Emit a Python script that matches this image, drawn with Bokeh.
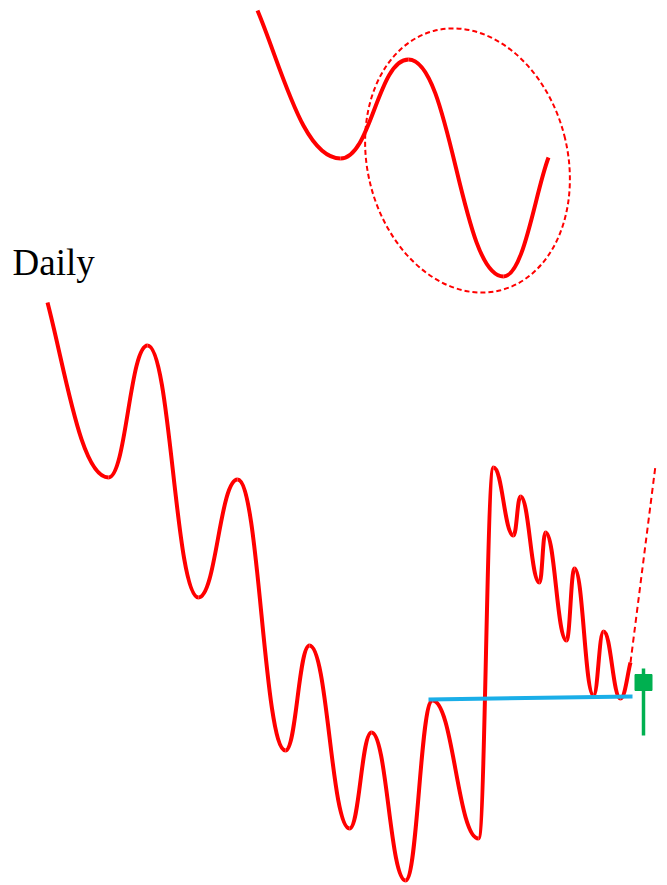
from bokeh.plotting import figure
from bokeh.models import Range1d
from bokeh.core.properties import value
from bokeh.embed import file_html
from bokeh.resources import INLINE

# swing points of the daily price path (page-pixel coordinates)
main_x = [47, 108, 147, 198, 237, 285, 309, 349, 371, 405, 432, 478, 493, 513, 520, 539, 545, 566, 574, 593, 603, 620, 630]
main_y = [302, 477, 345, 597, 479, 750, 645, 828, 732, 880, 700, 838, 467, 535, 496, 582, 532, 640, 568, 695, 631, 698, 662]
# projected continuation
proj_x = [630, 655]
proj_y = [662, 465]
# inset pattern swing points
inset_x = [257, 340, 408, 503, 548]
inset_y = [10, 158, 59, 276, 157]
# support level
level_x = [428, 632]
level_y = [699, 696]
# candle (open, close, high, low)
candle_x = 643
candle_open, candle_close, candle_high, candle_low = 690, 674, 668, 735
# highlight ellipse
ell_cx, ell_cy, ell_w, ell_h, ell_angle = 467, 160, 200, 268, 0.25

RED = "#ff0000"


def bez(xs, ys, first_free=True, last_free=True):
    x0, y0, x1, y1, cx0, cy0, cx1, cy1 = [], [], [], [], [], [], [], []
    n = len(xs)
    for i in range(n - 1):
        a, b = xs[i], ys[i]
        c, d = xs[i + 1], ys[i + 1]
        dx, dy = c - a, d - b
        k = 0.45
        p0 = (a + dx * k, b)
        p1 = (c - dx * k, d)
        if i == 0 and first_free:
            p0 = (a + dx * 0.3, b + dy * 0.4)
        if i == n - 2 and last_free:
            p1 = (c - dx * 0.3, d - dy * 0.3)
        x0.append(a); y0.append(b); x1.append(c); y1.append(d)
        cx0.append(p0[0]); cy0.append(p0[1]); cx1.append(p1[0]); cy1.append(p1[1])
    return dict(x0=x0, y0=y0, x1=x1, y1=y1, cx0=cx0, cy0=cy0, cx1=cx1, cy1=cy1)


p = figure(width=667, height=885, output_backend="svg", toolbar_location=None,
           x_axis_type=None, y_axis_type=None, min_border=0,
           x_range=Range1d(0, 667), y_range=Range1d(885, 0))
p.outline_line_color = None
p.grid.visible = False

m = bez(main_x, main_y)
p.bezier(**m, line_color=RED, line_width=4)
ins = bez(inset_x, inset_y)
p.bezier(**ins, line_color=RED, line_width=4)

p.line(proj_x, proj_y, line_color=RED, line_width=2, line_dash="6 4")
p.ellipse(x=[ell_cx], y=[ell_cy], width=ell_w, height=ell_h, angle=ell_angle,
          fill_color=None, line_color=RED, line_width=2, line_dash="5 3")

p.line(level_x, level_y, line_color="#1aaee8", line_width=4)

GREEN = "#00b050"
p.segment(x0=[candle_x], y0=[candle_high], x1=[candle_x], y1=[candle_low], line_color=GREEN, line_width=3.5)
p.vbar(x=[candle_x], width=17, top=[candle_close], bottom=[candle_open], fill_color=GREEN, line_color=GREEN)

p.text(x=[12], y=[262], text=["Daily"], text_font=value("Liberation Serif"),
       text_font_size="37px", text_color="black", text_baseline="alphabetic")

open("out.html", "w").write(file_html(p, INLINE))
